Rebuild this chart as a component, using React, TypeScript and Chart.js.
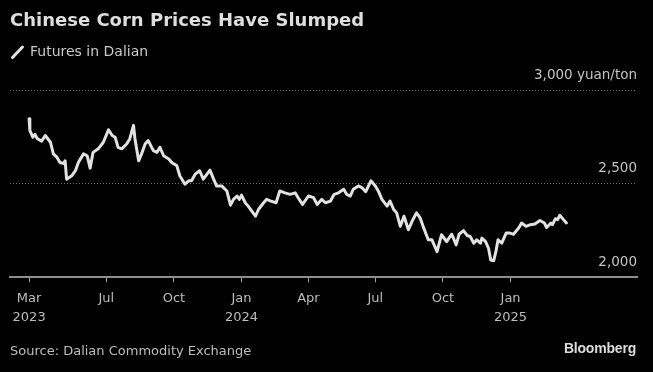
import React, { useEffect, useRef } from "react";
import { Chart, registerables } from "chart.js";

Chart.register(...registerables);

// Days since the first observation (2023-03-18)
const START_DATE = "2023-03-18";
const days = [
  0, 1, 5, 8, 11, 17, 22, 29, 33, 38, 42, 47, 49, 51, 58, 63, 67, 74, 79, 83, 87, 94, 101, 108, 113, 117, 121, 126, 133, 137,
  142, 144, 149, 153, 158, 162, 169, 174, 178, 183, 190, 194, 201, 205, 212, 217, 221, 226, 232, 237, 242, 246, 251, 255,
  262, 269, 274, 278, 283, 286, 289, 294, 298, 303, 308, 312, 319, 323, 329, 336, 341, 348, 355, 362, 366, 372, 380, 387,
  392, 398, 403, 410, 415, 421, 428, 432, 437, 441, 448, 453, 458, 465, 471, 475, 480, 487, 491, 496, 500, 505, 510, 516,
  521, 527, 532, 536, 543, 548, 555, 561, 568, 575, 581, 585, 591, 596, 600, 605, 609, 614, 616, 621, 625, 628, 632, 635,
  638, 643, 649, 654, 659, 666, 670, 676, 682, 688, 695, 701, 704, 710, 712, 716, 719, 722, 727, 731,
];
// Dalian corn futures, yuan/ton
const prices = [
  2847, 2784, 2748, 2763, 2741, 2727, 2757, 2721, 2659, 2640, 2613, 2608, 2622, 2524, 2542, 2569, 2613, 2659, 2649, 2583,
  2667, 2686, 2721, 2788, 2757, 2748, 2694, 2686, 2713, 2740, 2811, 2740, 2622, 2659, 2713, 2730, 2676, 2667, 2694, 2649,
  2632, 2613, 2595, 2542, 2497, 2515, 2515, 2551, 2569, 2524, 2551, 2572, 2524, 2488, 2488, 2461, 2385, 2416, 2434, 2416,
  2439, 2398, 2380, 2353, 2326, 2362, 2398, 2416, 2407, 2398, 2461, 2451, 2443, 2451, 2425, 2389, 2434, 2425, 2389, 2416,
  2398, 2407, 2443, 2451, 2470, 2443, 2434, 2470, 2488, 2478, 2457, 2515, 2488, 2461, 2416, 2380, 2407, 2362, 2344, 2272,
  2326, 2254, 2299, 2344, 2317, 2272, 2200, 2200, 2137, 2227, 2191, 2230, 2173, 2230, 2249, 2223, 2218, 2182, 2200, 2182,
  2209, 2191, 2155, 2092, 2088, 2137, 2200, 2182, 2236, 2236, 2230, 2263, 2290, 2272, 2281, 2284, 2303, 2290, 2266, 2290,
  2281, 2313, 2308, 2331, 2308, 2290,
];

const tickDates = ["2023-03-18", "2023-07-01", "2023-10-01", "2024-01-01", "2024-04-01", "2024-07-01", "2024-10-01", "2025-01-01"];
const tickLabels = [["Mar", "2023"], ["Jul"], ["Oct"], ["Jan", "2024"], ["Apr"], ["Jul"], ["Oct"], ["Jan", "2025"]];
const xMin = -26;
const xMax = 827;
const yTicks = [2000, 2500, 3000];
const yUnit = "yuan/ton";

const dayOffset = (d: string) => (Date.parse(d + "T00:00:00Z") - Date.parse(START_DATE + "T00:00:00Z")) / 86400000;

export default function App() {
  const ref = useRef<HTMLCanvasElement | null>(null);

  useEffect(() => {
    if (!ref.current) return;
    const tickVals = tickDates.map(dayOffset);
    const chart = new Chart(ref.current, {
      type: "line",
      data: {
        datasets: [
          {
            data: days.map((d, i) => ({ x: d, y: prices[i] })),
            borderColor: "#e2e2e2",
            borderWidth: 3,
            pointRadius: 0,
            tension: 0,
            borderJoinStyle: "round",
            borderCapStyle: "round",
          },
        ],
      },
      options: {
        animation: false,
        responsive: false,
        devicePixelRatio: 1,
        layout: { padding: { left: 10, right: 16, top: 90, bottom: 38 } },
        plugins: { legend: { display: false }, tooltip: { enabled: false } },
        scales: {
          x: {
            type: "linear",
            min: xMin,
            max: xMax,
            afterBuildTicks: (axis: any) => {
              axis.ticks = tickVals.map((v) => ({ value: v }));
            },
            grid: { drawOnChartArea: false, drawTicks: true, tickLength: 5, color: "#a0a0a0", lineWidth: 1 },
            border: { display: true, color: "#8e8e8e", width: 2 },
            ticks: {
              autoSkip: false,
              maxRotation: 0,
              padding: 7,
              color: "#bdbdbd",
              font: { family: "'DejaVu Sans'", size: 13, lineHeight: 1.45 },
              callback: (_v: any, i: number) => tickLabels[i],
            },
          },
          y: {
            position: "right",
            min: 2000,
            max: 3000,
            afterBuildTicks: (axis: any) => {
              axis.ticks = yTicks.map((v) => ({ value: v }));
            },
            grid: {
              drawTicks: false,
              color: (ctx: any) => (ctx.tick && ctx.tick.value === 2000 ? "rgba(0,0,0,0)" : "#707070"),
              lineWidth: 1,
            },
            border: { display: false, dash: [1, 2] },
            ticks: {
              mirror: true,
              padding: 0,
              labelOffset: -15,
              color: "#c4c4c4",
              font: { family: "'DejaVu Sans'", size: 13.5 },
              callback: (v: any) => {
                const s = Number(v).toLocaleString("en-US");
                return v === 3000 ? s + " " + yUnit : s;
              },
            },
          },
        },
      },
    } as any);
    return () => chart.destroy();
  }, []);

  return (
    <div style={{ position: "fixed", left: 0, top: 0, width: 653, height: 372, background: "#000", overflow: "hidden" }}>
      <canvas ref={ref} width={653} height={372} style={{ position: "absolute", left: 0, top: 0, width: 653, height: 372 }} />
      <div
        style={{
          position: "absolute",
          left: 10,
          top: 9,
          font: "bold 18px 'DejaVu Sans'",
          lineHeight: "21px",
          color: "#dedede",
          whiteSpace: "nowrap",
        }}
      >
        Chinese Corn Prices Have Slumped
      </div>
      <svg style={{ position: "absolute", left: 10, top: 44 }} width={16} height={16}>
        <line x1={2.5} y1={13.5} x2={12.5} y2={3} stroke="#e2e2e2" strokeWidth={3} strokeLinecap="round" />
      </svg>
      <div
        style={{
          position: "absolute",
          left: 30,
          top: 43,
          font: "14px 'DejaVu Sans'",
          lineHeight: "17px",
          color: "#c8c8c8",
          whiteSpace: "nowrap",
        }}
      >
        Futures in Dalian
      </div>
      <div
        style={{
          position: "absolute",
          left: 10,
          top: 343,
          font: "13px 'DejaVu Sans'",
          lineHeight: "16px",
          color: "#bdbdbd",
          whiteSpace: "nowrap",
        }}
      >
        Source: Dalian Commodity Exchange
      </div>
      <div
        style={{
          position: "absolute",
          right: 17,
          top: 340,
          font: "bold 14px 'Liberation Sans'",
          lineHeight: "16px",
          color: "#dcdcdc",
          whiteSpace: "nowrap",
          letterSpacing: "-0.2px",
        }}
      >
        Bloomberg
      </div>
    </div>
  );
}
